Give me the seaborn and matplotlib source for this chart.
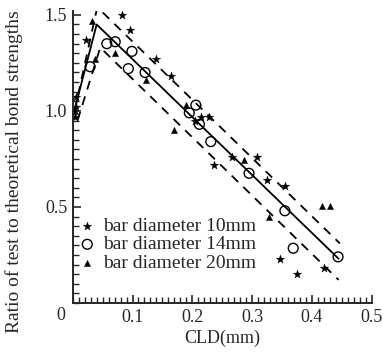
import pandas as pd
import seaborn as sns
import matplotlib.pyplot as plt
from matplotlib.ticker import MultipleLocator

# bar diameter 10mm (stars)
cld_10 = [0.005, 0.006, 0.003, 0.022, 0.082, 0.096, 0.140, 0.165, 0.204, 0.215, 0.228,
          0.237, 0.267, 0.308, 0.325, 0.355, 0.347, 0.375, 0.420]
ratio_10 = [1.07, 1.02, 0.97, 1.37, 1.50, 1.42, 1.27, 1.18, 0.95, 0.97, 0.97,
            0.72, 0.76, 0.76, 0.64, 0.61, 0.23, 0.15, 0.18]

# bar diameter 14mm (open circles)
cld_14 = [0.029, 0.057, 0.071, 0.099, 0.093, 0.121, 0.195, 0.206, 0.212, 0.231,
          0.295, 0.355, 0.369, 0.444]
ratio_14 = [1.23, 1.35, 1.36, 1.31, 1.22, 1.20, 0.99, 1.03, 0.93, 0.84,
            0.675, 0.48, 0.285, 0.24]

# bar diameter 20mm (triangles)
cld_20 = [0.033, 0.038, 0.071, 0.122, 0.170, 0.190, 0.286, 0.328, 0.417, 0.430, 0.004]
ratio_20 = [1.47, 1.27, 1.30, 1.16, 0.90, 1.03, 0.745, 0.45, 0.505, 0.505, 1.00]

# fitted line and bounds
fit_x = [0.0, 0.040, 0.445]
fit_y = [0.97, 1.45, 0.23]
upper_x = [0.003, 0.041, 0.447]
upper_y = [1.00, 1.54, 0.31]
lower_x = [0.008, 0.046, 0.445]
lower_y = [0.95, 1.33, 0.12]

sns.set_style("ticks")
plt.rcParams['font.family'] = ['Liberation Serif', 'DejaVu Serif']

fig = plt.figure(figsize=(3.83, 3.56), dpi=100)
ax = fig.add_axes([0.19, 0.149, 0.78, 0.82])

sns.lineplot(x=fit_x, y=fit_y, ax=ax, color="black", lw=1.3, sort=False, estimator=None)
sns.lineplot(x=upper_x, y=upper_y, ax=ax, color="black", lw=1.3, sort=False,
             estimator=None, linestyle=(0, (5, 4)))
sns.lineplot(x=lower_x, y=lower_y, ax=ax, color="black", lw=1.3, sort=False,
             estimator=None, linestyle=(0, (5, 4)))

sns.scatterplot(x=cld_10, y=ratio_10, ax=ax, marker="*", s=40, color="black",
                edgecolor="black", linewidth=0.3, label="bar diameter 10mm")
sns.scatterplot(x=cld_14, y=ratio_14, ax=ax, marker="o", s=50, facecolor="none",
                edgecolor="black", linewidth=1.0, label="bar diameter 14mm")
sns.scatterplot(x=cld_20, y=ratio_20, ax=ax, marker="^", s=20, color="black",
                edgecolor="black", linewidth=0.3, label="bar diameter 20mm")

ax.set_xlim(0, 0.5)
ax.set_ylim(0, 1.52)
ax.set_xticks([0.1, 0.2, 0.3, 0.4, 0.5])
ax.set_xticklabels(["0.1", "0.2", "0.3", "0.4", "0.5"])
ax.set_yticks([0.5, 1.0, 1.5])
ax.set_yticklabels(["0.5", "1.0", "1.5"])
ax.xaxis.set_minor_locator(MultipleLocator(0.01))
ax.yaxis.set_minor_locator(MultipleLocator(0.05))
ax.tick_params(which="major", direction="in", length=6, width=1.2, labelsize=13, pad=4)
ax.tick_params(which="minor", direction="in", length=4, width=1.0)
ax.text(-0.012, -0.02, "0", fontsize=13, ha="right", va="top")
sns.despine(ax=ax)
for side in ["left", "bottom"]:
    ax.spines[side].set_linewidth(1.4)

ax.set_xlabel("CLD(mm)", fontsize=13, labelpad=3)
ax.set_ylabel("Ratio of test to theoretical bond strengths", fontsize=14)
ax.yaxis.set_label_coords(-0.165, 0.45)

ax.legend(loc="center left", bbox_to_anchor=(-0.01, 0.2), frameon=False, fontsize=14,
          labelspacing=0.05, handletextpad=0.3, handlelength=1.0, borderaxespad=0)

plt.savefig("out.png", dpi=100)
